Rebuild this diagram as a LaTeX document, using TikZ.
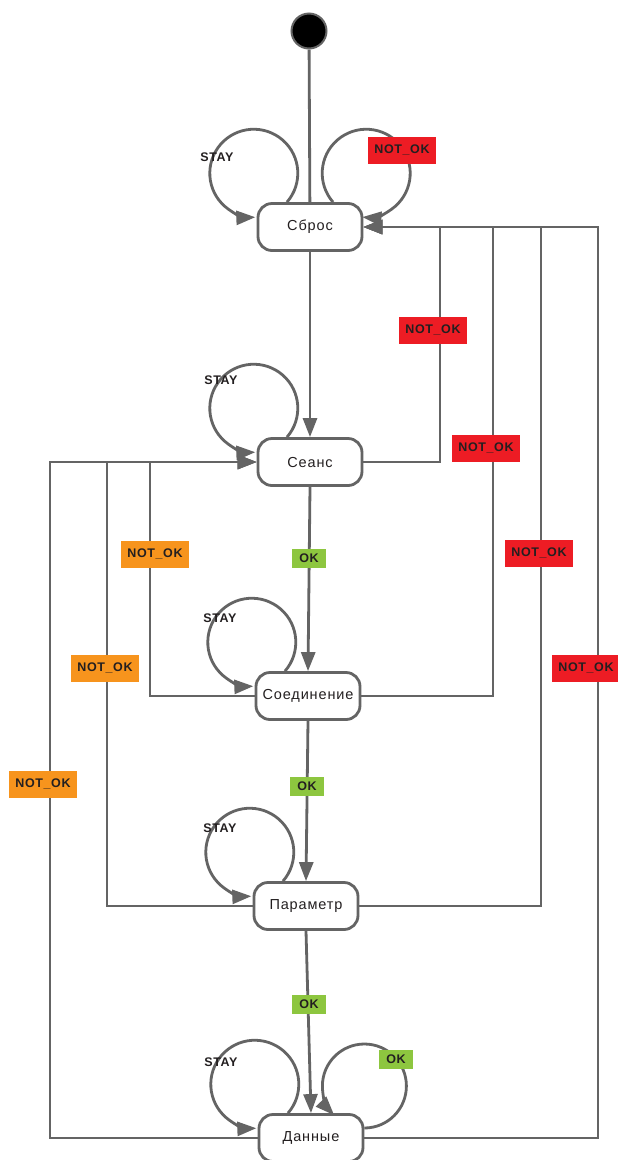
\documentclass[tikz,border=0pt]{standalone}
\usepackage{fontspec}
\setmainfont{Liberation Sans}
\newfontfamily\nodefont[LetterSpace=6]{Liberation Sans}
\newfontfamily\labfont[LetterSpace=5]{Liberation Sans}
\usetikzlibrary{arrows.meta,calc}
\definecolor{lncol}{RGB}{100,100,100}
\definecolor{nred}{RGB}{237,28,36}
\definecolor{norange}{RGB}{247,148,29}
\definecolor{ngreen}{RGB}{141,198,63}
\definecolor{txt}{RGB}{35,31,32}
\begin{document}
\begin{tikzpicture}[x=1pt,y=-1pt,
  state/.style={draw=lncol, line width=2.8pt, fill=white, rounded corners=14pt,
    minimum width=104pt, minimum height=47pt, inner sep=0pt,
    font=\nodefont\fontsize{14.5}{16}\selectfont, text=txt},
  wire/.style={draw=lncol, line width=2.8pt},
  arr/.style={wire, -{Triangle[length=19pt,width=14pt]}},
  lab/.style={font=\labfont\bfseries\fontsize{12.5}{14}\selectfont, text=txt, inner sep=0pt},
  notokr/.style={lab, fill=nred, minimum width=68pt, minimum height=27pt},
  notoko/.style={lab, fill=norange, minimum width=68pt, minimum height=27pt},
  okg/.style={lab, fill=ngreen, minimum width=34pt, minimum height=19pt},
  stay/.style={lab}
]
\useasboundingbox (0,0) rectangle (618,1160);
\fill[white] (0,0) rectangle (618,1160);

% states
\node[circle, fill=black, draw=lncol, line width=2pt, minimum size=35pt, inner sep=0pt] (init) at (309,31) {};
\node[state] (sbros)  at (310,227)  {Сброс};
\node[state] (seans)  at (310,462)  {Сеанс};
\node[state] (soed)   at (308,696)  {Соединение};
\node[state] (param)  at (306,906)  {Параметр};
\node[state] (dannye) at (311,1138) {Данные};

% bus corner coordinates
\coordinate (rb1) at (440,227);
\coordinate (rb2) at (493,227);
\coordinate (rb3) at (541,227);
\coordinate (rb4) at (598,227);
\coordinate (lb1) at (150,462);
\coordinate (lb2) at (107,462);
\coordinate (lb3) at (50,462);

% main flow
\draw[wire] (init) -- (sbros);
\draw[arr] (sbros.south) -- (seans.north);
\draw[arr] (seans.south) -- (soed.north);
\draw[arr] (soed.south) -- (param.north);
\draw[arr] (param.south) -- (dannye.north);

% self loops
\draw[arr] ([xshift=-23pt]sbros.north) arc[start angle=-41, end angle=272, radius=44pt];
\draw[arr] ([xshift=23pt]sbros.north) arc[start angle=221, end angle=-95, radius=44pt];
\draw[arr] ([xshift=-23pt]seans.north) arc[start angle=-41, end angle=272, radius=44pt];
\draw[arr] ([xshift=-23pt]soed.north) arc[start angle=-41, end angle=272, radius=44pt];
\draw[arr] ([xshift=-23pt]param.north) arc[start angle=-41, end angle=272, radius=44pt];
\draw[arr] ([xshift=-23pt]dannye.north) arc[start angle=-41, end angle=272, radius=44pt];
\draw[arr] ([yshift=10pt]dannye.east) arc[start angle=-90, end angle=224, radius=42pt];

% right bus (NOT_OK back to Сброс)
\draw[arr] (seans.east) -| (rb1) -- (sbros.east);
\draw[arr] (soed.east) -| (rb2) -- (sbros.east);
\draw[arr] (param.east) -| (rb3) -- (sbros.east);
\draw[arr] (dannye.east) -| (rb4) -- (sbros.east);

% left bus (NOT_OK back to Сеанс)
\draw[arr] (soed.west) -| (lb1) -- (seans.west);
\draw[arr] (param.west) -| (lb2) -- (seans.west);
\draw[arr] (dannye.west) -| (lb3) -- (seans.west);

% labels
\node[stay] (s1) at (217,157)  {STAY};
\node[stay] (s2) at (221,380)  {STAY};
\node[stay] (s3) at (220,618)  {STAY};
\node[stay] (s4) at (220,828)  {STAY};
\node[stay] (s5) at (221,1062) {STAY};

\node[notokr] (n0) at (402,150) {NOT\_OK};
\node[notokr] (n1) at (433,330) {NOT\_OK};
\node[notokr] (n2) at (486,448) {NOT\_OK};
\node[notokr] (n3) at (539,553) {NOT\_OK};
\node[notokr] (n4) at (586,668) {NOT\_OK};

\node[notoko] (o1) at (155,554) {NOT\_OK};
\node[notoko] (o2) at (105,668) {NOT\_OK};
\node[notoko] (o3) at (43,784)  {NOT\_OK};

\node[okg] (k1) at (309,558)  {OK};
\node[okg] (k2) at (307,786)  {OK};
\node[okg] (k3) at (309,1004) {OK};
\node[okg] (k4) at (396,1059) {OK};
\end{tikzpicture}
\end{document}
